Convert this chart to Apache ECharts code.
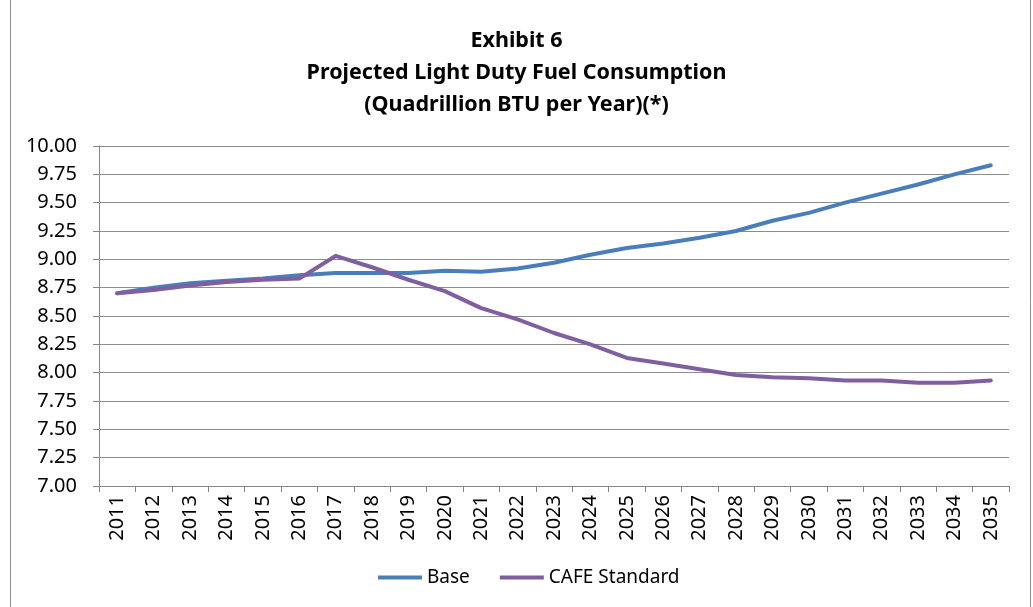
<!DOCTYPE html>
<html>
<head>
<meta charset="utf-8">
<script src="https://cdn.jsdelivr.net/npm/echarts@6/dist/echarts.min.js"></script>
<style>
html, body { margin: 0; padding: 0; background: #fff; }
#chart { width: 1033px; height: 607px; }
</style>
</head>
<body>
<div id="chart"></div>
<script>
var years = ['2011','2012','2013','2014','2015','2016','2017','2018','2019','2020','2021','2022','2023',
             '2024','2025','2026','2027','2028','2029','2030','2031','2032','2033','2034','2035'];
var base_vals = [8.70, 8.75, 8.79, 8.81, 8.83, 8.86, 8.88, 8.88, 8.88, 8.90, 8.89, 8.92, 8.97,
                 9.04, 9.10, 9.14, 9.19, 9.25, 9.34, 9.41, 9.50, 9.58, 9.66, 9.75, 9.83];
var cafe_vals = [8.70, 8.73, 8.77, 8.80, 8.82, 8.83, 9.03, 8.93, 8.82, 8.72, 8.57, 8.47, 8.35,
                 8.25, 8.13, 8.08, 8.03, 7.98, 7.96, 7.95, 7.93, 7.93, 7.91, 7.91, 7.93];
var title_lines = ['Exhibit 6', 'Projected Light Duty Fuel Consumption', '(Quadrillion BTU per Year)(*)'];

var FONT = 'Noto Sans';
var myChart = echarts.init(document.getElementById('chart'));

var option = {
    animation: false,
    textStyle: { fontFamily: FONT },
    title: {
        text: title_lines.join('\n'),
        left: 'center',
        top: 20,
        textStyle: { fontSize: 21.5, fontWeight: 'bold', color: '#000', lineHeight: 32, fontFamily: FONT }
    },
    graphic: [{
        type: 'rect',
        shape: { x: 10.5, y: -1, width: 1020, height: 609 },
        style: { fill: 'none', stroke: '#8c8c8c', lineWidth: 1 },
        silent: true
    }],
    legend: {
        bottom: 15,
        left: 373,
        itemWidth: 44,
        itemHeight: 4,
        itemGap: 30,
        icon: 'rect',
        textStyle: { fontSize: 19, color: '#000', fontFamily: FONT },
        data: ['Base', 'CAFE Standard']
    },
    grid: { left: 99, right: 24, top: 146, bottom: 121 },
    xAxis: {
        type: 'category',
        data: years,
        boundaryGap: true,
        axisLine: { lineStyle: { color: '#868686', width: 1 } },
        axisTick: { show: true, length: 6, lineStyle: { color: '#868686' } },
        axisLabel: { rotate: 90, fontSize: 20, color: '#000', margin: 9, interval: 0 }
    },
    yAxis: {
        type: 'value',
        min: 7,
        max: 10,
        interval: 0.25,
        axisLine: { show: true, lineStyle: { color: '#868686', width: 1 } },
        axisTick: { show: true, length: 6, lineStyle: { color: '#868686' } },
        splitLine: { lineStyle: { color: '#8c8c8c', width: 1 } },
        axisLabel: {
            fontSize: 20, color: '#000', margin: 22,
            formatter: function (v) { return v.toFixed(2); }
        }
    },
    series: [
        {
            name: 'Base',
            type: 'line',
            symbol: 'none',
            data: base_vals,
            itemStyle: { color: '#4A7EBB' },
            lineStyle: { color: '#4A7EBB', width: 4, cap: 'round', join: 'round' }
        },
        {
            name: 'CAFE Standard',
            type: 'line',
            symbol: 'none',
            data: cafe_vals,
            itemStyle: { color: '#7F5FA0' },
            lineStyle: { color: '#7F5FA0', width: 4, cap: 'round', join: 'round' }
        }
    ]
};
myChart.setOption(option);
</script>
</body>
</html>
